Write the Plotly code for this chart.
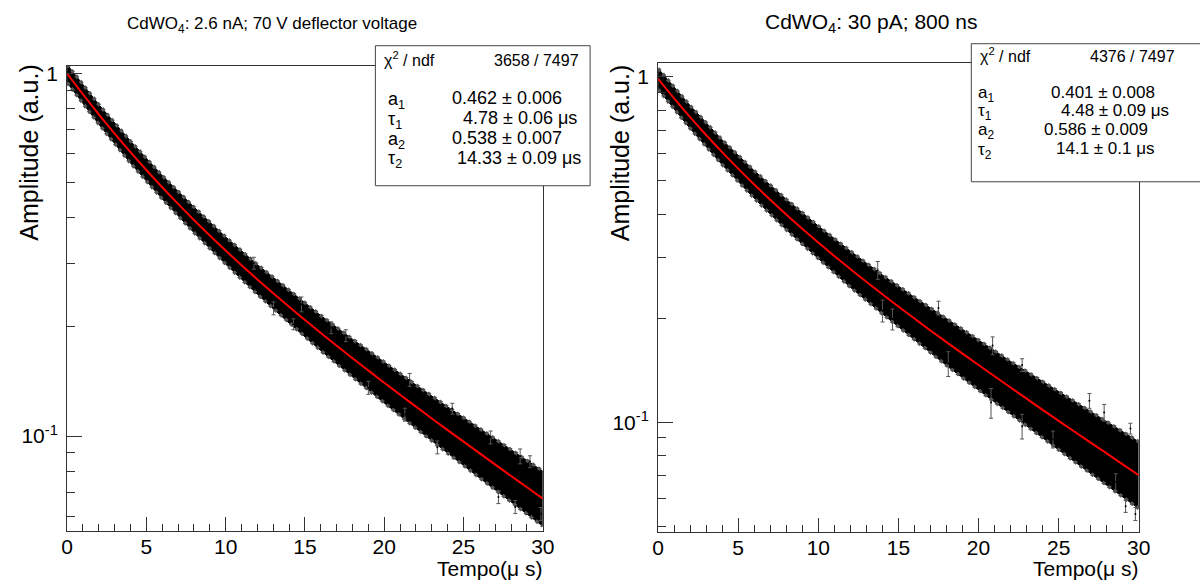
import plotly.graph_objects as go

FONT = "Liberation Sans, Arial, Helvetica, sans-serif"

# ---------------- data ----------------
# fitted curve (red line), sampled every 1 us
t_fit = list(range(31))
fit_left = [1.000, 0.8765, 0.7719, 0.6830, 0.6071, 0.5418, 0.4857, 0.4369, 0.3944, 0.3574,
            0.3247, 0.2959, 0.2704, 0.2476, 0.2272, 0.2089, 0.1924, 0.1775, 0.1639, 0.1516,
            0.1403, 0.1300, 0.1205, 0.1118, 0.1038, 0.0965, 0.0897, 0.0834, 0.0776, 0.0722,
            0.0672]
fit_right = [0.987, 0.8667, 0.7651, 0.6789, 0.6054, 0.5424, 0.4879, 0.4407, 0.3995, 0.3632,
             0.3313, 0.3029, 0.2777, 0.2550, 0.2346, 0.2162, 0.1996, 0.1844, 0.1706, 0.1580,
             0.1464, 0.1358, 0.1260, 0.1170, 0.1086, 0.1009, 0.0938, 0.0873, 0.0812, 0.0755,
             0.0702]

# envelope of the dense band of measured points (with their error bars)
t_env = [0, 2, 4, 6, 8, 10, 12, 14, 16, 18, 20, 22, 24, 26, 28, 30]
upper_left = [1.059, 0.821, 0.651, 0.523, 0.428, 0.354, 0.297, 0.252, 0.215, 0.185,
              0.1597, 0.1383, 0.1203, 0.1049, 0.0916, 0.0800]
lower_left = [0.944, 0.725, 0.566, 0.451, 0.364, 0.298, 0.246, 0.205, 0.172, 0.1454,
              0.1233, 0.1050, 0.0896, 0.0767, 0.0658, 0.0564]
upper_right = [1.058, 0.826, 0.657, 0.535, 0.442, 0.370, 0.313, 0.267, 0.230, 0.199,
               0.173, 0.150, 0.1312, 0.1146, 0.1004, 0.0878]
lower_right = [0.921, 0.709, 0.557, 0.445, 0.361, 0.297, 0.246, 0.206, 0.173, 0.146,
               0.124, 0.1055, 0.0899, 0.0768, 0.0657, 0.0562]

# isolated error bars that stick out of the band (t, low, high)
wl_t = [11.78, 13.02, 14.27, 14.78, 16.65, 17.58, 19.0, 21.6, 21.3, 23.35, 24.29, 26.71,
        27.2, 28.57, 28.26, 29.19, 29.88]
wl_lo = [0.2885, 0.2159, 0.1964, 0.2201, 0.1915, 0.1821, 0.1303, 0.1371, 0.1099, 0.0893,
         0.1149, 0.0951, 0.0651, 0.0838, 0.0611, 0.0818, 0.0585]
wl_hi = [0.3112, 0.2344, 0.2105, 0.2418, 0.2065, 0.1964, 0.1415, 0.1488, 0.1193, 0.0969,
         0.1231, 0.1032, 0.0707, 0.0921, 0.0664, 0.0882, 0.0635]
wr_t = [13.71, 14.01, 14.63, 17.5, 18.11, 20.88, 20.78, 22.72, 22.72, 24.65, 26.92, 27.84,
        28.56, 29.18, 29.79, 29.48]
wr_lo = [0.2593, 0.1951, 0.1850, 0.2043, 0.1356, 0.1568, 0.1027, 0.1402, 0.0894, 0.0842,
         0.1097, 0.1007, 0.0633, 0.0548, 0.0519, 0.0924]
wr_hi = [0.2920, 0.2256, 0.2127, 0.2241, 0.1600, 0.1766, 0.1252, 0.1527, 0.1054, 0.0942,
         0.1211, 0.1126, 0.0709, 0.0593, 0.0566, 0.0993]

x_major = [0, 5, 10, 15, 20, 25, 30]
x_minor = [v for v in range(31) if v % 5 != 0]
y_major = [0.1, 1]
y_major_text = ["10<sup>-1</sup>", "1"]
y_minor = [0.05, 0.06, 0.07, 0.08, 0.09, 0.2, 0.3, 0.4, 0.5, 0.6, 0.7, 0.8, 0.9]

titles = ["CdWO<sub>4</sub>: 2.6 nA; 70 V deflector voltage", "CdWO<sub>4</sub>: 30 pA; 800 ns"]
chi2 = ["3658 / 7497", "4376 / 7497"]
par_names = ["a<sub>1</sub>", "τ<sub>1</sub>", "a<sub>2</sub>", "τ<sub>2</sub>"]
par_left = ["0.462 ± 0.006", "4.78 ± 0.06 μs", "0.538 ± 0.007", "14.33 ± 0.09 μs"]
par_right = ["0.401 ± 0.008", "4.48 ± 0.09 μs", "0.586 ± 0.009", "14.1 ± 0.1 μs"]

# ---------------- figure ----------------
W, H = 1200, 582
def px(x):
    return x / W
def py(y):
    return 1 - y / H

fig = go.Figure()

panels = [
    dict(xa="x", ya="y", upper=upper_left, lower=lower_left, fit=fit_left,
         wt=wl_t, wlo=wl_lo, whi=wl_hi),
    dict(xa="x2", ya="y2", upper=upper_right, lower=lower_right, fit=fit_right,
         wt=wr_t, wlo=wr_lo, whi=wr_hi),
]
for p in panels:
    fig.add_trace(go.Scatter(x=t_env, y=p["lower"], mode="lines",
                             line=dict(color="black", width=1),
                             xaxis=p["xa"], yaxis=p["ya"], showlegend=False, hoverinfo="skip"))
    fig.add_trace(go.Scatter(x=t_env, y=p["upper"], mode="lines", fill="tonexty",
                             fillcolor="black", line=dict(color="black", width=1),
                             xaxis=p["xa"], yaxis=p["ya"], showlegend=False, hoverinfo="skip"))
    # fuzzy fringe of error bars along both edges of the band
    for edge in (p["lower"], p["upper"]):
        fig.add_trace(go.Scatter(x=t_env, y=edge, mode="lines",
                                 line=dict(color="#555555", width=3.5, dash="dot"),
                                 xaxis=p["xa"], yaxis=p["ya"], showlegend=False,
                                 hoverinfo="skip"))
    mid = [(a + b) / 2 for a, b in zip(p["wlo"], p["whi"])]
    half = [(b - a) / 2 for a, b in zip(p["wlo"], p["whi"])]
    fig.add_trace(go.Scatter(x=p["wt"], y=mid, mode="markers",
                             marker=dict(color="black", size=2),
                             error_y=dict(type="data", array=half, visible=True,
                                          color="#555", thickness=1, width=2),
                             xaxis=p["xa"], yaxis=p["ya"], showlegend=False, hoverinfo="skip"))
    fig.add_trace(go.Scatter(x=t_fit, y=p["fit"], mode="lines", line_shape="spline",
                             line=dict(color="#ff0000", width=2),
                             xaxis=p["xa"], yaxis=p["ya"], showlegend=False, hoverinfo="skip"))

axis_common = dict(showgrid=False, zeroline=False, showline=True, linecolor="#333",
                   linewidth=1, mirror=True, ticks="inside", tickcolor="#333",
                   tickfont=dict(family=FONT, size=21, color="black"))

fig.update_layout(
    width=W, height=H, margin=dict(l=0, r=0, t=0, b=0),
    paper_bgcolor="white", plot_bgcolor="white",
    xaxis=dict(domain=[px(62), px(545)], range=[0, 30], anchor="y",
               tickvals=x_major, ticklen=14, tickwidth=1, ticklabelstandoff=-4,
               minor=dict(tickvals=x_minor, ticklen=7, ticks="inside", tickcolor="#333"),
               **axis_common),
    yaxis=dict(domain=[py(531), py(62.5)], type="log", range=[-1.263, 0.0205], anchor="x",
               tickvals=y_major, ticktext=y_major_text, ticklen=15, tickwidth=1,
               ticklabelstandoff=4,
               minor=dict(tickvals=y_minor, ticklen=8, ticks="inside", tickcolor="#333"),
               **axis_common),
    xaxis2=dict(domain=[px(662), px(1150)], range=[0, 30], anchor="y2",
                tickvals=x_major, ticklen=14, tickwidth=1, ticklabelstandoff=-4,
                minor=dict(tickvals=x_minor, ticklen=7, ticks="inside", tickcolor="#333"),
                **axis_common),
    yaxis2=dict(domain=[py(532), py(59.5)], type="log", range=[-1.319, 0.040], anchor="x2",
                tickvals=y_major, ticktext=y_major_text, ticklen=15, tickwidth=1,
                ticklabelstandoff=4,
                minor=dict(tickvals=y_minor, ticklen=8, ticks="inside", tickcolor="#333"),
                **axis_common),
)

# stats boxes
fig.add_shape(type="rect", xref="paper", yref="paper", x0=px(375), x1=px(593),
              y0=py(183), y1=py(42), fillcolor="white", line=dict(color="#444", width=1),
              layer="above")
fig.add_shape(type="rect", xref="paper", yref="paper", x0=px(980), x1=px(1215),
              y0=py(179), y1=py(40), fillcolor="white", line=dict(color="#444", width=1),
              layer="above")

ann = []
def text(x, y, s, size, xanchor="left", yanchor="middle", angle=0):
    ann.append(dict(x=px(x), y=py(y), xref="paper", yref="paper", text=s, showarrow=False,
                    xanchor=xanchor, yanchor=yanchor, textangle=angle,
                    font=dict(family=FONT, size=size, color="black")))

# titles
text(270, 21, titles[0], 17, xanchor="center")
text(878, 19, titles[1], 21, xanchor="center")
# axis titles
text(546, 568, "Tempo(μ s)", 21, xanchor="right")
text(1151, 568, "Tempo(μ s)", 21, xanchor="right")
text(22.5, 59, "Amplitude (a.u.)", 25, xanchor="center", yanchor="top", angle=-90)
text(623, 60, "Amplitude (a.u.)", 25, xanchor="center", yanchor="top", angle=-90)

# stats text left
text(382, 55, "χ<sup>2</sup> / ndf", 16)
text(584, 57, chi2[0], 16, xanchor="right")
for name, val, y, xv in zip(par_names, par_left, [97, 117, 137, 157], [451, 462, 451, 456]):
    text(386, y, name, 18)
    text(xv, y - 2, val, 18)
# stats text right
text(987, 51, "χ<sup>2</sup> / ndf", 16)
text(1189, 53, chi2[1], 16, xanchor="right")
for name, val, y, xv in zip(par_names, par_right, [91, 109, 128, 148], [1059, 1069, 1052, 1064]):
    text(985, y, name, 17)
    text(xv, y - 2, val, 17)

fig.update_layout(annotations=ann)
fig.write_html("out.html")
